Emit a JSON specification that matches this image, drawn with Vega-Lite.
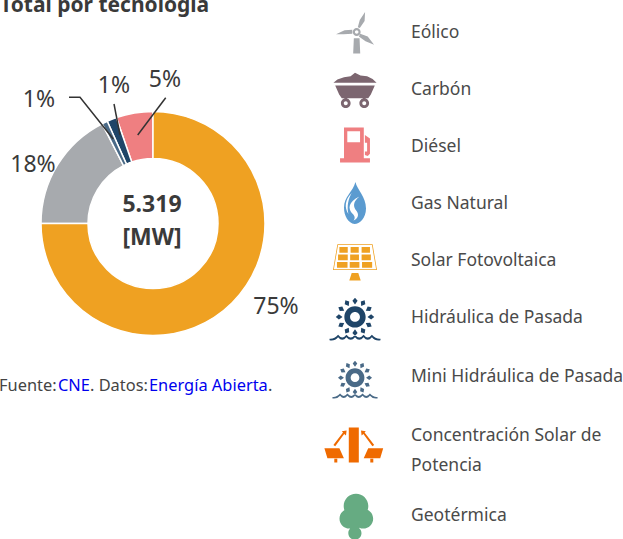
{
"$schema":"https://vega.github.io/schema/vega-lite/v6.json",
"width":623,"height":539,"padding":0,"autosize":{"type":"none"},
"background":"#ffffff",
"config":{"view":{"stroke":null}},
"datasets":{
"tecnologias":[
{"tecnologia":"Eólico","texto":"Eólico","valor":17.5,"orden":2,"etiqueta":"18%"},
{"tecnologia":"Carbón","texto":"Carbón","valor":0,"orden":9,"etiqueta":""},
{"tecnologia":"Diésel","texto":"Diésel","valor":5.3,"orden":5,"etiqueta":"5%"},
{"tecnologia":"Gas Natural","texto":"Gas Natural","valor":0,"orden":9,"etiqueta":""},
{"tecnologia":"Solar Fotovoltaica","texto":"Solar Fotovoltaica","valor":75,"orden":1,"etiqueta":"75%"},
{"tecnologia":"Hidráulica de Pasada","texto":"Hidráulica de Pasada","valor":1.4,"orden":4,"etiqueta":"1%"},
{"tecnologia":"Mini Hidráulica de Pasada","texto":"Mini Hidráulica de Pasada","valor":0.8,"orden":3,"etiqueta":"1%"},
{"tecnologia":"Concentración Solar de Potencia","texto":"Concentración Solar de\nPotencia","valor":0,"orden":9,"etiqueta":""},
{"tecnologia":"Geotérmica","texto":"Geotérmica","valor":0,"orden":9,"etiqueta":""}
],
"guias":[
{"serie":"Diésel","paso":1,"x":165.7,"y":97.7},
{"serie":"Diésel","paso":2,"x":137.7,"y":135},
{"serie":"Hidráulica","paso":1,"x":114,"y":104},
{"serie":"Hidráulica","paso":2,"x":120,"y":135},
{"serie":"Mini","paso":1,"x":69,"y":97.3},
{"serie":"Mini","paso":2,"x":80,"y":97.3},
{"serie":"Mini","paso":3,"x":113.3,"y":139}
],
"fuente":[
{"seg":"Fuente:","enlace":"no"},
{"seg":"CNE","enlace":"si"},
{"seg":". Datos:","enlace":"no"},
{"seg":"Energía Abierta","enlace":"si"},
{"seg":".","enlace":"no"}
]
},
"layer":[
{"data":{"name":"tecnologias"},"transform":[{"filter":"datum.valor>0"}],
"mark":{"type":"arc","innerRadius":65,"outerRadius":112,"stroke":"#ffffff","strokeWidth":1.5},
"encoding":{
"x":{"value":153},"y":{"value":223.5},
"theta":{"field":"valor","type":"quantitative","stack":true},
"order":{"field":"orden","type":"ordinal","sort":"ascending"},
"color":{"field":"tecnologia","type":"nominal","legend":null,"scale":{"domain":["Solar Fotovoltaica","Eólico","Mini Hidráulica de Pasada","Hidráulica de Pasada","Diésel"],"range":["#EFA122","#A7AAAE","#4A6A87","#1F4568","#EF7F81"]}}
}},
{"data":{"name":"guias"},"mark":{"type":"line","color":"#333333","strokeWidth":1.5},
"encoding":{
"x":{"field":"x","type":"quantitative","axis":null,"scale":{"domain":[0,623],"range":[0,623],"nice":false,"zero":false}},
"y":{"field":"y","type":"quantitative","axis":null,"scale":{"domain":[0,539],"range":[0,539],"nice":false,"zero":false}},
"detail":{"field":"serie"},
"order":{"field":"paso","type":"quantitative"}
}},
{"data":{"name":"tecnologias"},"transform":[{"filter":"datum.valor>0"},
{"calculate":"{'Solar Fotovoltaica':276,'Eólico':33,'Mini Hidráulica de Pasada':39,'Hidráulica de Pasada':114,'Diésel':165}[datum.tecnologia]","as":"lx"},
{"calculate":"{'Solar Fotovoltaica':307,'Eólico':165,'Mini Hidráulica de Pasada':100,'Hidráulica de Pasada':86,'Diésel':80}[datum.tecnologia]","as":"ly"}],
"mark":{"type":"text","font":"Noto Sans","fontSize":23,"fill":"#3a3a3a","align":"center","baseline":"middle"},
"encoding":{
"text":{"field":"etiqueta"},
"x":{"field":"lx","type":"quantitative","axis":null,"scale":{"domain":[0,623],"range":[0,623],"nice":false,"zero":false}},
"y":{"field":"ly","type":"quantitative","axis":null,"scale":{"domain":[0,539],"range":[0,539],"nice":false,"zero":false}}
}},
{"data":{"values":[{"total":"5.319\n[MW]"}]},
"mark":{"type":"text","font":"Noto Sans","fontWeight":"bold","fontSize":23,"fill":"#3a3a3a","align":"center","baseline":"middle","lineBreak":"\n","lineHeight":33},
"encoding":{"text":{"field":"total"},"x":{"value":152},"y":{"value":205}}},
{"data":{"values":[{"titulo":"Total por tecnología"}]},
"mark":{"type":"text","font":"Noto Sans","fontWeight":"bold","fontSize":21,"fill":"#3a3a3a","align":"left","baseline":"alphabetic"},
"encoding":{"text":{"field":"titulo"},"x":{"value":0},"y":{"value":12}}},
{"data":{"name":"fuente"},
"transform":[{"calculate":"{'Fuente:':-1,'CNE':58,'. Datos:':90,'Energía Abierta':149,'.':268}[datum.seg]","as":"fx"}],
"mark":{"type":"text","font":"Noto Sans","fontSize":16.4,"align":"left","baseline":"alphabetic"},
"encoding":{"text":{"field":"seg"},
"x":{"field":"fx","type":"quantitative","axis":null,"scale":{"domain":[0,623],"range":[0,623],"nice":false,"zero":false}},
"y":{"value":391},
"color":{"field":"enlace","type":"nominal","legend":null,"scale":{"domain":["no","si"],"range":["#444444","#0000EE"]}}
}},
{"data":{"name":"tecnologias"},
"transform":[{"calculate":"{'Eólico':33,'Carbón':90,'Diésel':147,'Gas Natural':204,'Solar Fotovoltaica':261,'Hidráulica de Pasada':318,'Mini Hidráulica de Pasada':377,'Concentración Solar de Potencia':436,'Geotérmica':516}[datum.tecnologia]","as":"ty"}],
"mark":{"type":"text","font":"Noto Sans","fontSize":17.5,"fill":"#4a4a4a","align":"left","baseline":"middle","lineBreak":"\n","lineHeight":30},
"encoding":{"text":{"field":"texto"},"x":{"value":411},
"y":{"field":"ty","type":"quantitative","axis":null,"scale":{"domain":[0,539],"range":[0,539],"nice":false,"zero":false}}
}},
{"data":{"name":"tecnologias"},
"transform":[
{"calculate":"{'Eólico':356.7,'Carbón':355,'Diésel':355,'Gas Natural':355,'Solar Fotovoltaica':355,'Hidráulica de Pasada':355,'Mini Hidráulica de Pasada':355,'Concentración Solar de Potencia':353.8,'Geotérmica':356}[datum.tecnologia]","as":"ix"},
{"calculate":"{'Eólico':32,'Carbón':90,'Diésel':145,'Gas Natural':203,'Solar Fotovoltaica':262.5,'Hidráulica de Pasada':320,'Mini Hidráulica de Pasada':380.5,'Concentración Solar de Potencia':445,'Geotérmica':516}[datum.tecnologia]","as":"iy"}],
"mark":{"type":"point","filled":true,"opacity":1,"strokeWidth":0},
"encoding":{
"x":{"field":"ix","type":"quantitative","axis":null,"scale":{"domain":[0,623],"range":[0,623],"nice":false,"zero":false}},
"y":{"field":"iy","type":"quantitative","axis":null,"scale":{"domain":[0,539],"range":[0,539],"nice":false,"zero":false}},
"size":{"field":"tecnologia","type":"nominal","legend":null,"scale":{"type":"ordinal","domain":["Eólico","Carbón","Diésel","Gas Natural","Solar Fotovoltaica","Hidráulica de Pasada","Mini Hidráulica de Pasada","Concentración Solar de Potencia","Geotérmica"],"range":[1936,1936,1936,1936,1936,2704,2116,3600,1936]}},
"color":{"field":"tecnologia","type":"nominal","legend":null,"scale":{"domain":["Eólico","Carbón","Diésel","Gas Natural","Solar Fotovoltaica","Hidráulica de Pasada","Mini Hidráulica de Pasada","Concentración Solar de Potencia","Geotérmica"],"range":["#A7AAAE","#7C6670","#EF7F81","#5B9BD0","#EFA122","#1F4568","#4A6A87","#EF6A00","#66AB82"]}},
"shape":{"field":"tecnologia","type":"nominal","legend":null,"scale":{"domain":["Eólico","Carbón","Diésel","Gas Natural","Solar Fotovoltaica","Hidráulica de Pasada","Mini Hidráulica de Pasada","Concentración Solar de Potencia","Geotérmica"],"range":[
"M0.05 -0.22L0.14 -0.55L0.38 -0.91L0.36 -0.5L0.14 -0.18ZM-0.94 0.1L-0.55 -0.08L-0.2 -0.1L-0.2 0.08L-0.6 0.1ZM0.16 0.08L0.5 0.2L0.79 0.58L0.4 0.42L0.1 0.2ZM-0.13 0.28L0.13 0.28L0.16 0.98L-0.16 0.98ZM-0.18 0A0.18 0.18 0 1 1 0.18 0A0.18 0.18 0 1 1 -0.18 0ZM-0.08 0A0.08 0.08 0 1 0 0.08 0A0.08 0.08 0 1 0 -0.08 0Z",
"M-0.98 -0.33L-0.8 -0.48L-0.5 -0.58L-0.2 -0.62L0 -0.78L0.25 -0.66L0.55 -0.62L0.8 -0.5L0.98 -0.33ZM-0.9 -0.2L0.9 -0.2L0.72 0.2L0.6 0.38L-0.6 0.38L-0.72 0.2ZM-0.64 0.6A0.22 0.22 0 1 1 -0.2 0.6A0.22 0.22 0 1 1 -0.64 0.6ZM-0.51 0.6A0.09 0.09 0 1 0 -0.33 0.6A0.09 0.09 0 1 0 -0.51 0.6ZM0.2 0.6A0.22 0.22 0 1 1 0.64 0.6A0.22 0.22 0 1 1 0.2 0.6ZM0.33 0.6A0.09 0.09 0 1 0 0.51 0.6A0.09 0.09 0 1 0 0.33 0.6Z",
"M-0.68 0.6L0.68 0.6L0.68 0.8L-0.68 0.8ZM-0.5 -0.8L0.4 -0.8L0.4 0.6L-0.5 0.6ZM-0.35 -0.62L-0.35 -0.12L0.23 -0.12L0.23 -0.62ZM0.45 -0.45L0.68 -0.3L0.68 0.4L0.58 0.5L0.45 0.45L0.45 0.3L0.55 0.3L0.55 -0.1L0.45 -0.1Z",
"M0.02 -0.96C0.1 -0.6 0.5 -0.3 0.5 0.25C0.5 0.7 0.2 0.96 -0.02 0.96C-0.3 0.9 -0.5 0.6 -0.5 0.2C-0.5 -0.3 -0.1 -0.5 0.02 -0.96ZM0.2 -0.3C-0.3 -0.05 -0.35 0.25 -0.1 0.5C0 0.6 0.02 0.72 -0.08 0.8C0.12 0.75 0.2 0.55 0.08 0.38C-0.1 0.15 -0.1 -0.05 0.2 -0.3ZM-0.15 -0.45C-0.45 -0.15 -0.5 0.2 -0.3 0.5C-0.38 0.15 -0.3 -0.2 -0.15 -0.45Z",
"M-0.8 -0.83L0.8 -0.83L1 0.34L-1 0.34ZM-0.77 -0.8L-0.96 0.31L0.96 0.31L0.77 -0.8ZM-0.71 -0.7L-0.33 -0.7L-0.33 -0.44L-0.71 -0.44ZM-0.2 -0.7L0.17 -0.7L0.17 -0.44L-0.2 -0.44ZM0.3 -0.7L0.68 -0.7L0.68 -0.44L0.3 -0.44ZM-0.77 -0.36L-0.33 -0.36L-0.33 -0.1L-0.77 -0.1ZM-0.22 -0.36L0.18 -0.36L0.18 -0.1L-0.22 -0.1ZM0.3 -0.36L0.72 -0.36L0.72 -0.1L0.3 -0.1ZM-0.82 -0.02L-0.34 -0.02L-0.34 0.24L-0.82 0.24ZM-0.24 -0.02L0.2 -0.02L0.2 0.24L-0.24 0.24ZM0.32 -0.02L0.78 -0.02L0.78 0.24L0.32 0.24ZM-0.15 0.48L0.15 0.48L0.26 0.82L-0.26 0.82Z",
"M-0.41 -0.12A0.41 0.41 0 1 1 0.41 -0.12A0.41 0.41 0 1 1 -0.41 -0.12ZM-0.19 -0.12A0.19 0.19 0 1 0 0.19 -0.12A0.19 0.19 0 1 0 -0.19 -0.12ZM0.48 -0.12L0.62 -0.02L0.74 -0.12L0.62 -0.22ZM0.416 0.12L0.487 0.277L0.641 0.25L0.587 0.103ZM0.24 0.296L0.223 0.467L0.37 0.521L0.397 0.367ZM0 0.36L-0.1 0.5L0 0.62L0.1 0.5ZM-0.24 0.296L-0.397 0.367L-0.37 0.521L-0.223 0.467ZM-0.416 0.12L-0.587 0.103L-0.641 0.25L-0.487 0.277ZM-0.48 -0.12L-0.62 -0.22L-0.74 -0.12L-0.62 -0.02ZM-0.416 -0.36L-0.587 -0.343L-0.641 -0.49L-0.487 -0.517ZM-0.24 -0.536L-0.397 -0.607L-0.37 -0.761L-0.223 -0.707ZM0 -0.6L-0.1 -0.74L0 -0.86L0.1 -0.74ZM0.24 -0.536L0.223 -0.707L0.37 -0.761L0.397 -0.607ZM0.416 -0.36L0.487 -0.517L0.641 -0.49L0.587 -0.343ZM-0.98 0.72Q-0.8 0.74 -0.65 0.57Q-0.49 0.78 -0.33 0.57Q-0.16 0.78 0 0.57Q0.16 0.78 0.33 0.57Q0.49 0.78 0.65 0.57Q0.8 0.74 0.98 0.72L0.98 0.78Q0.78 0.82 0.65 0.66Q0.49 0.86 0.33 0.66Q0.16 0.86 0 0.66Q-0.16 0.86 -0.33 0.66Q-0.49 0.86 -0.65 0.66Q-0.78 0.82 -0.98 0.78Z",
"M-0.41 -0.12A0.41 0.41 0 1 1 0.41 -0.12A0.41 0.41 0 1 1 -0.41 -0.12ZM-0.19 -0.12A0.19 0.19 0 1 0 0.19 -0.12A0.19 0.19 0 1 0 -0.19 -0.12ZM0.48 -0.12L0.62 -0.02L0.74 -0.12L0.62 -0.22ZM0.416 0.12L0.487 0.277L0.641 0.25L0.587 0.103ZM0.24 0.296L0.223 0.467L0.37 0.521L0.397 0.367ZM0 0.36L-0.1 0.5L0 0.62L0.1 0.5ZM-0.24 0.296L-0.397 0.367L-0.37 0.521L-0.223 0.467ZM-0.416 0.12L-0.587 0.103L-0.641 0.25L-0.487 0.277ZM-0.48 -0.12L-0.62 -0.22L-0.74 -0.12L-0.62 -0.02ZM-0.416 -0.36L-0.587 -0.343L-0.641 -0.49L-0.487 -0.517ZM-0.24 -0.536L-0.397 -0.607L-0.37 -0.761L-0.223 -0.707ZM0 -0.6L-0.1 -0.74L0 -0.86L0.1 -0.74ZM0.24 -0.536L0.223 -0.707L0.37 -0.761L0.397 -0.607ZM0.416 -0.36L0.487 -0.517L0.641 -0.49L0.587 -0.343ZM-0.98 0.72Q-0.8 0.74 -0.65 0.57Q-0.49 0.78 -0.33 0.57Q-0.16 0.78 0 0.57Q0.16 0.78 0.33 0.57Q0.49 0.78 0.65 0.57Q0.8 0.74 0.98 0.72L0.98 0.78Q0.78 0.82 0.65 0.66Q0.49 0.86 0.33 0.66Q0.16 0.86 0 0.66Q-0.16 0.86 -0.33 0.66Q-0.49 0.86 -0.65 0.66Q-0.78 0.82 -0.98 0.78Z",
"M-0.167 -0.583L0.167 -0.583L0.167 0.583L-0.167 0.583ZM-0.98 0.11L-0.48 0.11L-0.33 0.44L-0.88 0.44ZM0.98 0.11L0.88 0.44L0.33 0.44L0.48 0.11ZM-0.65 0.46L-0.55 0.46L-0.55 0.58L-0.65 0.58ZM0.55 0.46L0.65 0.46L0.65 0.58L0.55 0.58ZM-0.24 -0.48L-0.26 -0.32L-0.32 -0.37L-0.62 0.04L-0.68 0L-0.36 -0.42L-0.4 -0.46ZM0.24 -0.48L0.4 -0.46L0.36 -0.42L0.68 0L0.62 0.04L0.32 -0.37L0.26 -0.32Z",
"M-0.56 -0.45A0.56 0.56 0 1 1 0.56 -0.45A0.56 0.56 0 1 1 -0.56 -0.45ZM-0.75 0.12A0.45 0.45 0 1 1 0.15 0.12A0.45 0.45 0 1 1 -0.75 0.12ZM-0.12 0.12A0.45 0.45 0 1 1 0.78 0.12A0.45 0.45 0 1 1 -0.12 0.12ZM-0.35 0.78A0.3 0.3 0 1 1 0.25 0.78A0.3 0.3 0 1 1 -0.35 0.78ZM-0.25 0.4L0.15 0.4L0.15 0.8L-0.25 0.8Z"
]}}
}}
],
"resolve":{"scale":{"color":"independent","size":"independent","shape":"independent","theta":"independent"}}
}
